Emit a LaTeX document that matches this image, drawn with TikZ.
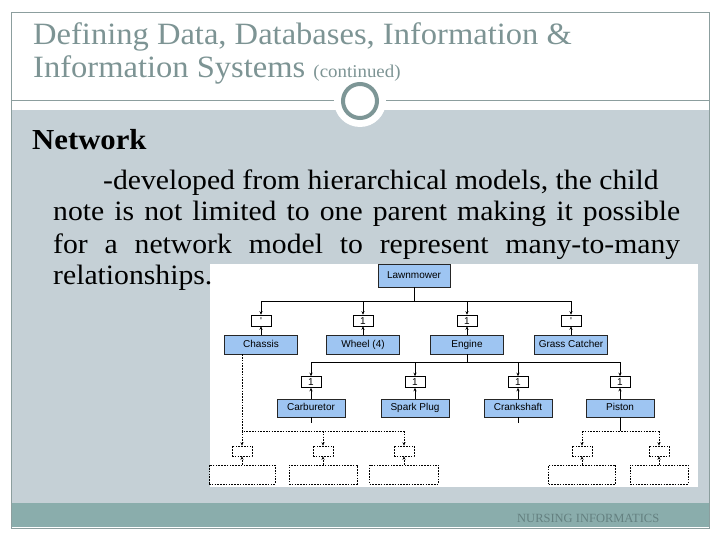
\documentclass[tikz,border=0pt]{standalone}
\usepackage{fontspec}
\setmainfont{Liberation Serif}
\newfontfamily\titlefont[FakeStretch=1.05]{Liberation Serif}
\newfontfamily\bodyfont[FakeStretch=1.06]{Liberation Serif}
\newfontfamily\boxfont{Liberation Sans}
\usetikzlibrary{arrows.meta}
\definecolor{slidegray}{RGB}{197,208,214}
\definecolor{footteal}{RGB}{138,173,172}
\definecolor{titlegray}{RGB}{125,148,148}
\definecolor{framegray}{RGB}{140,158,158}
\definecolor{ringgray}{RGB}{125,150,150}
\definecolor{partblue}{RGB}{158,197,242}
\definecolor{footgray}{RGB}{100,128,128}
\begin{document}
\begin{tikzpicture}[x=1pt, y=-1pt, >={Stealth[length=3.5pt,width=3pt]},
    part/.style={draw=black!85, fill=partblue, line width=0.5pt, minimum width=73pt, minimum height=19pt, inner sep=0pt, text height=7.2pt, text depth=1.8pt, font=\boxfont\fontsize{10}{12}\selectfont},
    subpart/.style={part, minimum width=68pt, minimum height=18pt},
    card/.style={draw=black, fill=white, line width=0.5pt, minimum width=20pt, minimum height=11pt, inner sep=0pt, text height=7pt, text depth=0pt, font=\boxfont\fontsize{10}{10}\selectfont},
    wire/.style={draw=black, line width=0.6pt},
    ghost/.style={draw=black, line width=0.6pt, dash pattern=on 1.6pt off 1.2pt},
    ghostcard/.style={ghost, minimum width=20pt, minimum height=10pt, inner sep=0pt},
    ghostpart/.style={ghost, minimum width=66pt, minimum height=19pt, inner sep=0pt},
    line/.style={anchor=base west, inner sep=0pt, font=\bodyfont\fontsize{28}{30}\selectfont}]
    \useasboundingbox (0,0) rectangle (720,540);

    % Slide
    \fill[slidegray] (11,110) rectangle (709,503);
    \fill[footteal] (11,503) rectangle (709,527);
    \draw[framegray, line width=0.8pt] (11,12) rectangle (709,528);
    \draw[framegray, line width=0.8pt] (11,100) -- (709,100);
    \fill[white] (360,101) circle[radius=26pt];
    \draw[ringgray, line width=4pt] (360,101) circle[radius=17pt];
    \fill[white] (210,264) rectangle (698,487);

    % Title
    \node[anchor=base west, inner sep=0pt, text=titlegray, font=\titlefont\fontsize{31}{33}\selectfont] (t1) at (33,45) {Defining Data, Databases, Information \&};
    \node[anchor=base west, inner sep=0pt, text=titlegray, font=\titlefont\fontsize{31}{33}\selectfont] (t2) at (33,78) {Information Systems {\fontsize{18}{20}\selectfont(continued)}};

    % Text
    \node[line, font=\bodyfont\bfseries\fontsize{29}{30}\selectfont] (net) at (32,150) {Network};
    \node[line] (l1) at (103,190) {-developed from hierarchical models, the child};
    \node[line] (l2) at (53,221) {\makebox[627pt][s]{note is not limited to one parent making it possible}};
    \node[line] (l3) at (53,253) {\makebox[627pt][s]{for a network model to represent many-to-many}};
    \node[line] (l4) at (53,284) {relationships.};

    % Footer
    \node[anchor=base west, inner sep=0pt, text=footgray, font=\fontsize{12.5}{13}\selectfont] (foot) at (517,522) {NURSING INFORMATICS};

    % Nodes
    \node[part, minimum width=72pt, minimum height=23pt] (lawn) at (414,275.5) {Lawnmower};
    \foreach \name/\x/\lbl/\n in {chassis/261/Chassis/', wheel/363/{Wheel (4)}/1, engine/467/Engine/1, grass/571/{Grass Catcher}/'} {
        \coordinate (b\name) at (\x,301);
        \node[card] (c\name) at (\x,320.5) {\n};
        \node[part] (\name) at (\x,344.5) {\lbl};
    }
    \foreach \name/\x/\lbl in {carb/311/Carburetor, spark/415/{Spark Plug}, crank/518/Crankshaft, piston/620/Piston} {
        \coordinate (b\name) at (\x,362);
        \node[card] (c\name) at (\x,382) {1};
        \node[subpart] (\name) at (\x,408) {\lbl};
    }
    \foreach \g/\x/\w in {A/242/66, B/323/68, C/404/69, D/582/67, E/659/58} {
        \coordinate (g\g) at (\x,431);
        \node[ghostcard] (k\g) at (\x,451) {};
        \node[ghostpart, minimum width=\w pt] (p\g) at (\x,474.5) {};
    }
    \coordinate (scarb) at (311,423);
    \coordinate (scrank) at (518,423);
    \coordinate (jpiston) at (620,431);

    % Edges
    \draw[wire] (lawn.south) -- (lawn.south |- bchassis);
    \draw[wire] (bchassis) -- (bgrass);
    \foreach \name in {chassis, wheel, engine, grass} {
        \draw[wire, ->] (b\name) -- (c\name);
        \draw[wire, ->] (\name) -- (c\name);
    }
    \draw[wire] (engine.south) -- (engine.south |- bcarb);
    \draw[wire] (bcarb) -- (bpiston);
    \foreach \name in {carb, spark, crank, piston} {
        \draw[wire, ->] (b\name) -- (c\name);
        \draw[wire, ->] (\name) -- (c\name);
    }
    \draw[wire] (carb) -- (scarb);
    \draw[wire] (crank) -- (scrank);
    \draw[wire] (piston) -- (jpiston);
    \draw[ghost] (chassis.south -| gA) -- (gA) -- (gC);
    \draw[ghost] (gD) -- (gE);
    \foreach \g in {A, B, C, D, E} {
        \draw[ghost, ->] (g\g) -- (k\g);
        \draw[ghost, ->] (p\g) -- (k\g);
    }
\end{tikzpicture}
\end{document}
